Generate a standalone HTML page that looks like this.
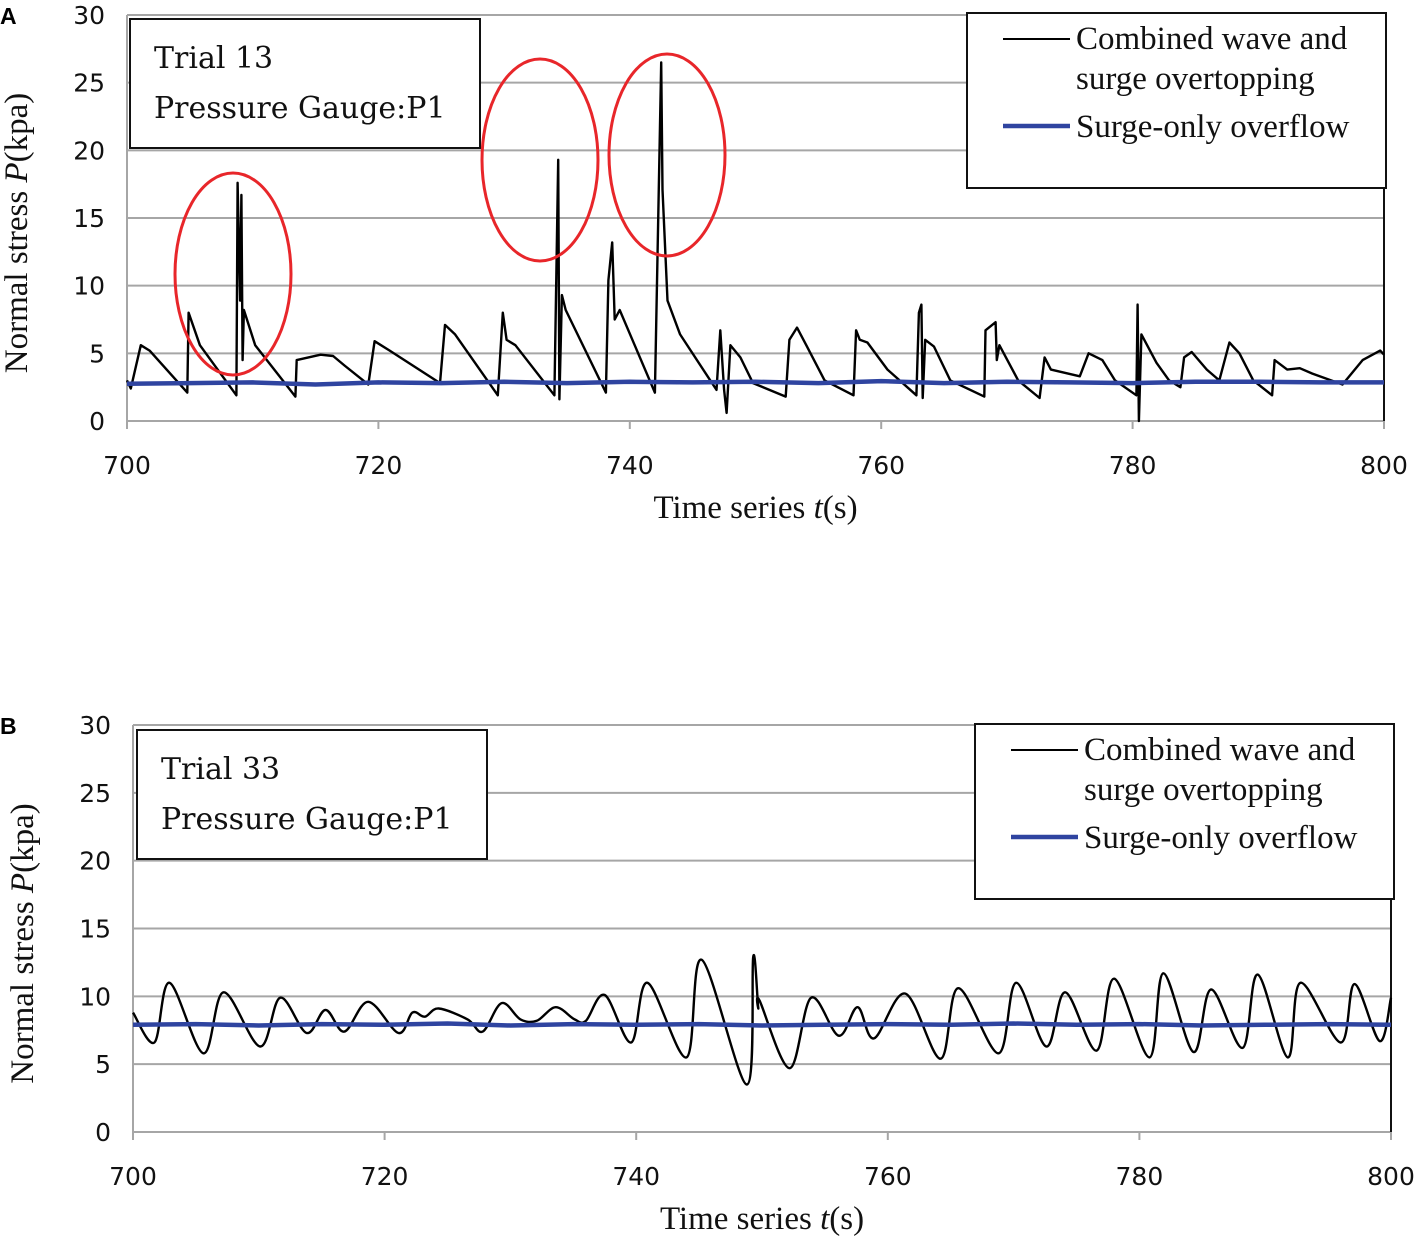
<!DOCTYPE html>
<html><head><meta charset="utf-8"><style>
body{margin:0;background:#fff}
svg text{font-family:"Liberation Serif",serif}
.tk{font-family:"DejaVu Sans",sans-serif;font-size:25px;fill:#111}
.sf{font-size:33px;fill:#111}
.ibt{font-family:"DejaVu Serif",serif;font-size:30px;fill:#111}
</style></head><body>
<svg id="s" width="1420" height="1238" viewBox="0 0 1420 1238" xmlns="http://www.w3.org/2000/svg"></svg>
<script>
const xTicks=[700,720,740,760,780,800];
const yTicks=[0,5,10,15,20,25,30];
const seriesA_t=[700,700.3,701.1,701.8,704.8,704.9,705.8,708.7,708.8,709.0,709.1,709.2,709.3,710.2,713.4,713.5,715.4,716.4,717.3,719.2,719.7,720.9,724.9,725.3,726.1,729.5,729.9,730.2,730.9,734.0,734.3,734.4,734.6,734.9,738.1,738.3,738.6,738.8,739.2,742.0,742.5,742.6,743.0,744.0,746.9,747.2,747.5,747.7,748.0,748.8,749.8,752.4,752.7,753.3,754.1,755.5,757.8,758.0,758.3,758.9,760.5,762.8,763.0,763.2,763.3,763.5,764.2,765.5,768.2,768.3,769.1,769.2,769.4,770.9,772.6,773.0,773.5,775.8,776.5,777.6,778.6,780.3,780.4,780.5,780.7,781.9,782.9,783.8,784.1,784.7,785.9,786.9,787.7,788.5,789.6,791.1,791.3,792.3,793.3,794.3,796.7,798.3,799.7,800];
const seriesA_p=[3.0,2.4,5.6,5.2,2.1,8.0,5.6,1.9,17.6,8.9,16.7,4.5,8.2,5.6,1.8,4.5,4.9,4.8,4.1,2.7,5.9,5.2,2.8,7.1,6.4,1.9,8.0,6.0,5.6,1.9,19.3,1.6,9.3,8.2,2.1,10.4,13.2,7.5,8.2,2.1,26.5,17.1,8.9,6.4,2.3,6.7,2.3,0.6,5.6,4.7,2.8,1.8,6.0,6.9,5.5,3.0,1.9,6.7,6.0,5.8,3.8,1.9,8.0,8.6,1.7,6.0,5.5,3.0,1.8,6.7,7.3,4.5,5.6,3.0,1.7,4.7,3.8,3.3,5.0,4.5,3.0,1.9,8.6,0,6.4,4.3,3.0,2.5,4.7,5.1,3.8,3.0,5.8,5.0,3.0,1.9,4.5,3.8,3.9,3.5,2.7,4.5,5.2,4.9];
const surgeA_t=[700,705,710,715,720,725,730,735,740,745,750,755,760,765,770,775,780,785,790,795,800];
const surgeA_p=[2.75,2.8,2.85,2.7,2.85,2.8,2.9,2.8,2.9,2.85,2.9,2.8,2.95,2.8,2.9,2.85,2.8,2.9,2.9,2.85,2.85];
const seriesB_t=[700,701.7,702.9,705.6,707.2,710.1,711.7,713.8,715.3,716.8,718.7,721.1,722.2,723.2,724.3,726.6,727.8,729.3,730.8,732.1,733.6,735.1,736.0,737.5,739.6,740.9,744.0,745.2,748.8,749.3,749.7,749.8,752.2,753.9,756.1,757.6,758.9,761.4,764.2,765.6,768.8,770.2,772.6,774.1,776.6,778.0,780.8,781.9,784.3,785.7,788.2,789.4,791.8,792.8,796.0,797.1,799.1,800];
const seriesB_p=[8.8,6.6,11.0,5.8,10.3,6.3,9.9,7.3,9.0,7.4,9.6,7.3,8.8,8.5,9.1,8.3,7.4,9.5,8.3,8.2,9.2,8.3,8.2,10.1,6.6,11.0,5.5,12.7,3.5,12.9,9.2,9.7,4.7,9.9,7.1,9.2,6.9,10.2,5.4,10.6,5.8,11.0,6.3,10.3,6.0,11.3,5.5,11.7,5.9,10.5,6.2,11.6,5.5,11.0,6.6,10.9,6.7,9.9];
const surgeB_t=[700,705,710,715,720,725,730,735,740,745,750,755,760,765,770,775,780,785,790,795,800];
const surgeB_p=[7.9,7.95,7.85,7.95,7.9,8.0,7.85,7.95,7.9,7.95,7.85,7.9,7.95,7.9,8.0,7.9,7.95,7.85,7.9,7.95,7.9];

const NS="http://www.w3.org/2000/svg";
const svg=document.getElementById('s');
function mk(tag,attrs,parent,txt){const e=document.createElementNS(NS,tag);for(const k in attrs)e.setAttribute(k,attrs[k]);if(txt!==undefined)e.textContent=txt;(parent||svg).appendChild(e);return e;}

function panel(cfg){
  const g=mk('g',{});
  
  
  const X=t=>cfg.x0+(t-700)/100*(cfg.x1-cfg.x0);
  const Y=p=>cfg.y0-p/30*(cfg.y0-cfg.y1);
  yTicks.forEach(v=>{
    const l=mk('line',{x1:cfg.x0,x2:cfg.x1,y1:Y(v),y2:Y(v),stroke:'#a6a6a6','stroke-width':2},g);
    
    
    const t=mk('text',{x:cfg.x0-22,y:Y(v)+9,'text-anchor':'end',class:'tk'},g,String(v));
    
    
  });
  mk('line',{x1:cfg.x0,x2:cfg.x0,y1:cfg.y1,y2:cfg.y0+8,stroke:'#a6a6a6','stroke-width':2},g);
  mk('line',{x1:cfg.x1,x2:cfg.x1,y1:cfg.y1,y2:cfg.y0,stroke:'#111','stroke-width':2},g);
  xTicks.forEach(v=>{
    mk('line',{x1:X(v),x2:X(v),y1:cfg.y0,y2:cfg.y0+8,stroke:'#a6a6a6','stroke-width':2},g);
    const t=mk('text',{x:X(v),y:cfg.y0+53,'text-anchor':'middle',class:'tk'},g,String(v));
    
    
  });
  let d='';cfg.st.forEach((t,i)=>{d+=(i?'L':'M')+X(t).toFixed(1)+' '+Y(cfg.sp[i]).toFixed(1);});
  let d2='';
  if(cfg.smooth){
    const P=cfg.ct.map((t,i)=>[X(t),Y(cfg.cp[i])]);
    d2='M'+P[0][0]+' '+P[0][1];
    for(let i=0;i<P.length-1;i++){
      const p0=P[Math.max(0,i-1)],p1=P[i],p2=P[i+1],p3=P[Math.min(P.length-1,i+2)];
      const c1=[p1[0]+(p2[0]-p0[0])/6,p1[1]+(p2[1]-p0[1])/6];
      const c2=[p2[0]-(p3[0]-p1[0])/6,p2[1]-(p3[1]-p1[1])/6];
      d2+='C'+c1.map(v=>v.toFixed(1)).join(' ')+' '+c2.map(v=>v.toFixed(1)).join(' ')+' '+p2[0].toFixed(1)+' '+p2[1].toFixed(1);
    }
  } else {
    cfg.ct.forEach((t,i)=>{d2+=(i?'L':'M')+X(t).toFixed(1)+' '+Y(cfg.cp[i]).toFixed(1);});
  }
  const c=mk('path',{d:d2,fill:'none',stroke:'#000','stroke-width':2.4,'stroke-linejoin':'round'},g);
  
  
  const s=mk('path',{d:d,fill:'none',stroke:'#2f44a0','stroke-width':4.5},g);
  
  
  const xt=mk('text',{x:(cfg.x0+cfg.x1)/2,y:cfg.y0+97,'text-anchor':'middle',class:'sf'},g);
  xt.innerHTML='Time series <tspan font-style="italic">t</tspan>(s)';
  
  
  const cy=(cfg.y0+cfg.y1)/2+15;
  const yt=mk('text',{x:0,y:0,'text-anchor':'middle',class:'sf',transform:`translate(${cfg.yTitleX},${cy}) rotate(-90)`},g);
  yt.innerHTML='Normal stress <tspan font-style="italic">P</tspan>(kpa)';
  
  
  const pl=mk('text',{x:0,y:cfg.y1+9,style:'font-family:Liberation Sans,sans-serif;font-weight:bold;font-size:23px'},g,cfg.letter);
  
  
  const ib=mk('g',{},g);
  
  
  mk('rect',{x:cfg.ib[0],y:cfg.ib[1],width:350,height:129,fill:'#fff',stroke:'#111','stroke-width':2},ib);
  mk('text',{x:cfg.ib[0]+24,y:cfg.ib[1]+49,class:'ibt'},ib,cfg.trial);
  mk('text',{x:cfg.ib[0]+24,y:cfg.ib[1]+99,class:'ibt'},ib,'Pressure Gauge:P1');
  const lg=mk('g',{},g);
  
  
  const lx=cfg.lg[0],ly=cfg.lg[1];
  mk('rect',{x:lx,y:ly,width:419,height:175,fill:'#fff',stroke:'#111','stroke-width':2},lg);
  mk('line',{x1:lx+36,x2:lx+103,y1:ly+26,y2:ly+26,stroke:'#000','stroke-width':2},lg);
  mk('text',{x:lx+109,y:ly+36,class:'sf'},lg,'Combined wave and');
  mk('text',{x:lx+109,y:ly+76,class:'sf'},lg,'surge overtopping');
  mk('line',{x1:lx+36,x2:lx+103,y1:ly+113,y2:ly+113,stroke:'#2f44a0','stroke-width':4.5},lg);
  mk('text',{x:lx+109,y:ly+124,class:'sf'},lg,'Surge-only overflow');
  (cfg.ell||[]).forEach(e=>{
    const el=mk('ellipse',{cx:e[0],cy:e[1],rx:58,ry:101,fill:'none',stroke:'#e8262a','stroke-width':3},g);
    
    
  });
}
panel({name:'panel-a',letter:'A',x0:127,x1:1384,y0:421,y1:15,yTitleX:27,ct:seriesA_t,cp:seriesA_p,st:surgeA_t,sp:surgeA_p,smooth:false,trial:'Trial 13',ib:[130,19],lg:[967,13],ell:[[233,274],[540,160],[667,155]]});
panel({name:'panel-b',letter:'B',x0:133,x1:1391,y0:1132,y1:725,yTitleX:33,ct:seriesB_t,cp:seriesB_p,st:surgeB_t,sp:surgeB_p,smooth:true,trial:'Trial 33',ib:[137,730],lg:[975,724]});
</script>
</body></html>
